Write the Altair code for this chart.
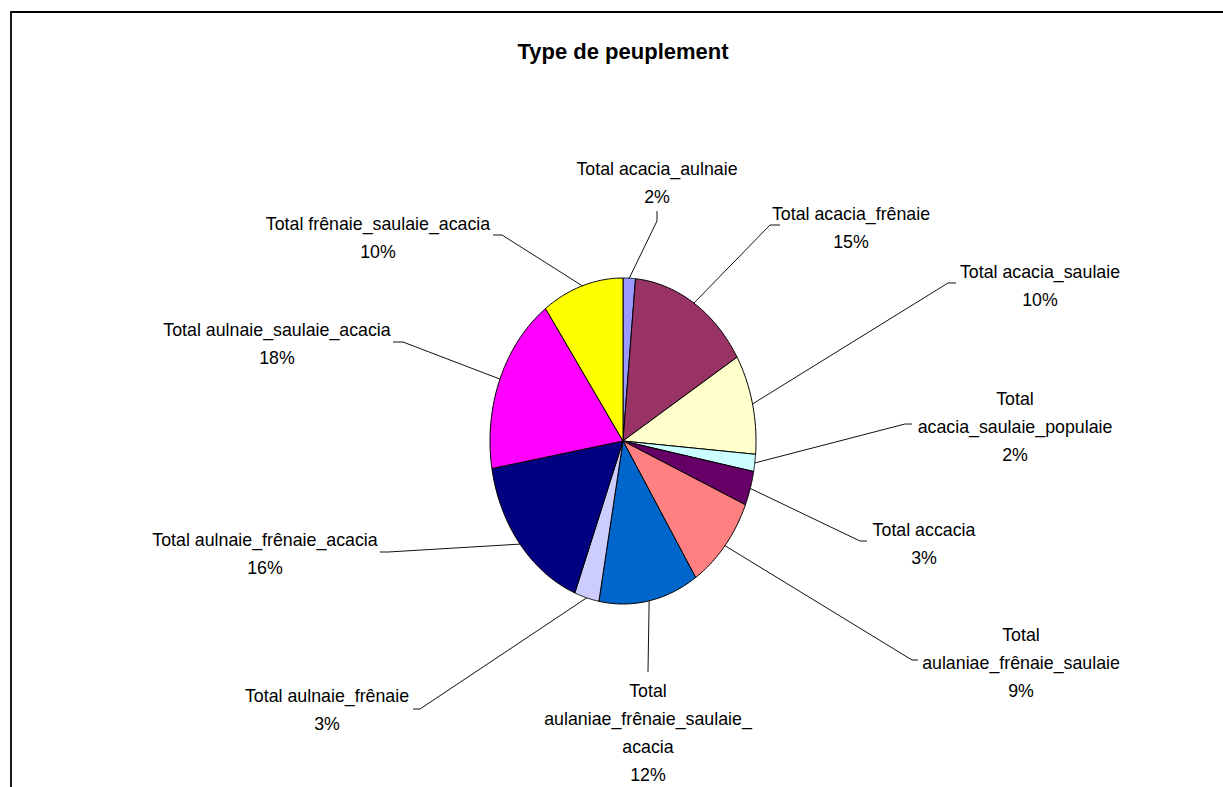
import altair as alt
import pandas as pd

# ---- data ----
names = [
    "Total acacia_aulnaie", "Total acacia_frênaie", "Total acacia_saulaie",
    "Total acacia_saulaie_populaie", "Total accacia", "Total aulaniae_frênaie_saulaie",
    "Total aulaniae_frênaie_saulaie_acacia", "Total aulnaie_frênaie",
    "Total aulnaie_frênaie_acacia", "Total aulnaie_saulaie_acacia",
    "Total frênaie_saulaie_acacia",
]
shares = [1.5, 14.9, 9.9, 1.7, 3.4, 9.4, 12.1, 3.0, 16.4, 17.8, 9.9]
colors = ["#9999FF", "#993366", "#FFFFCC", "#CCFFFF", "#660066", "#FF8080",
          "#0066CC", "#CCCCFF", "#000080", "#FF00FF", "#FFFF00"]
# label text with the line breaks used in the chart
label_text = [
    "Total acacia_aulnaie", "Total acacia_frênaie", "Total acacia_saulaie",
    "Total\nacacia_saulaie_populaie", "Total accacia", "Total\naulaniae_frênaie_saulaie",
    "Total\naulaniae_frênaie_saulaie_\nacacia", "Total aulnaie_frênaie",
    "Total aulnaie_frênaie_acacia", "Total aulnaie_saulaie_acacia",
    "Total frênaie_saulaie_acacia",
]

# ---- layout (pixels) ----
W, H = 1223, 787
CX, CY, RX, RY = 623, 441, 133, 163
FS = 17.8
label_x = [657, 851, 1040, 1015, 924, 1021, 648, 327, 265, 277, 378]
label_base = [175, 220, 278, 405, 536, 641, 697, 702, 546, 336, 230]
elbow_x = [657, 770, 948, 905, 860, 912, 648, 420, 388, 403, 502]
elbow_y = [221, 225, 283, 424, 541, 660, 672, 709, 552, 342, 235]
end_x = [657, 780, 956, 912, 867, 918, 648, 413, 380, 393, 493]
end_y = [211, 225, 283, 424, 541, 660, 672, 709, 552, 342, 235]

df = pd.DataFrame({
    "idx": list(range(len(names))), "name": names, "share": shares, "lbl": label_text,
    "lx": label_x, "ly": [b - 0.79 * FS for b in label_base],
    "bx": elbow_x, "by": elbow_y, "qx": end_x, "qy": end_y,
})

xs = alt.Scale(domain=[0, W], nice=False, zero=False)
ys = alt.Scale(domain=[0, H], nice=False, zero=False, reverse=True)

base = (
    alt.Chart(df)
    .transform_window(cum="sum(share)", sort=[alt.SortField("idx")], frame=[None, 0])
    .transform_joinaggregate(total="sum(share)")
    .transform_calculate(
        a0="2*PI*(datum.cum - datum.share)/datum.total",
        a1="2*PI*datum.cum/datum.total",
    )
    .transform_calculate(am="(datum.a0 + datum.a1)/2")
)

NSEG = 40
wedges = (
    base.transform_calculate(k=f"sequence(0, {NSEG + 3})")
    .transform_flatten(["k"])
    .transform_calculate(
        ang=f"datum.a0 + (datum.a1 - datum.a0) * clamp(datum.k - 1, 0, {NSEG}) / {NSEG}",
    )
    .transform_calculate(
        px=f"(datum.k == 0 || datum.k == {NSEG + 2}) ? {CX} : {CX} + {RX} * sin(datum.ang)",
        py=f"(datum.k == 0 || datum.k == {NSEG + 2}) ? {CY} : {CY} - {RY} * cos(datum.ang)",
    )
    .mark_line(stroke="black", color="black", strokeWidth=1, strokeJoin="round")
    .encode(
        x=alt.X("px:Q", scale=xs, axis=None),
        y=alt.Y("py:Q", scale=ys, axis=None),
        order=alt.Order("k:Q"),
        detail="name:N",
        fill=alt.Fill("name:N", scale=alt.Scale(domain=names, range=colors), legend=None),
    )
)

edge = base.transform_calculate(
    ex=f"{CX} + {RX} * sin(datum.am)",
    ey=f"{CY} - {RY} * cos(datum.am)",
)
lead1 = edge.mark_rule(color="#111111", strokeWidth=1).encode(
    x=alt.X("ex:Q", scale=xs, axis=None), y=alt.Y("ey:Q", scale=ys, axis=None),
    x2="bx:Q", y2="by:Q",
)
lead2 = base.mark_rule(color="#111111", strokeWidth=1).encode(
    x=alt.X("bx:Q", scale=xs, axis=None), y=alt.Y("by:Q", scale=ys, axis=None),
    x2="qx:Q", y2="qy:Q",
)

labels = base.transform_calculate(
    txt="datum.lbl + '\\n' + round(datum.share) + '%'"
).mark_text(
    align="center", baseline="top", lineBreak="\n", lineHeight=28,
    font="Liberation Sans, Arial", fontSize=FS, color="black",
).encode(
    x=alt.X("lx:Q", scale=xs, axis=None), y=alt.Y("ly:Q", scale=ys, axis=None),
    text="txt:N",
)

one = alt.Data(values=[{}])
title = alt.Chart(one).mark_text(
    text="Type de peuplement", align="center", baseline="alphabetic",
    font="Liberation Sans", fontWeight="bold", fontSize=22, color="black",
).encode(x=alt.value(623), y=alt.value(59))

border = alt.Chart(one).mark_rect(
    fill="transparent", stroke="black", strokeWidth=1.8,
).encode(x=alt.value(11), x2=alt.value(W + 40), y=alt.value(12), y2=alt.value(H + 40))

chart = (
    alt.layer(border, wedges, lead1, lead2, labels, title)
    .properties(width=W, height=H, padding=0, autosize=alt.AutoSizeParams(type="none"),
                background="white")
    .configure_view(stroke=None)
)

chart.save("out.html", embed_options={"renderer": "svg", "actions": False})
